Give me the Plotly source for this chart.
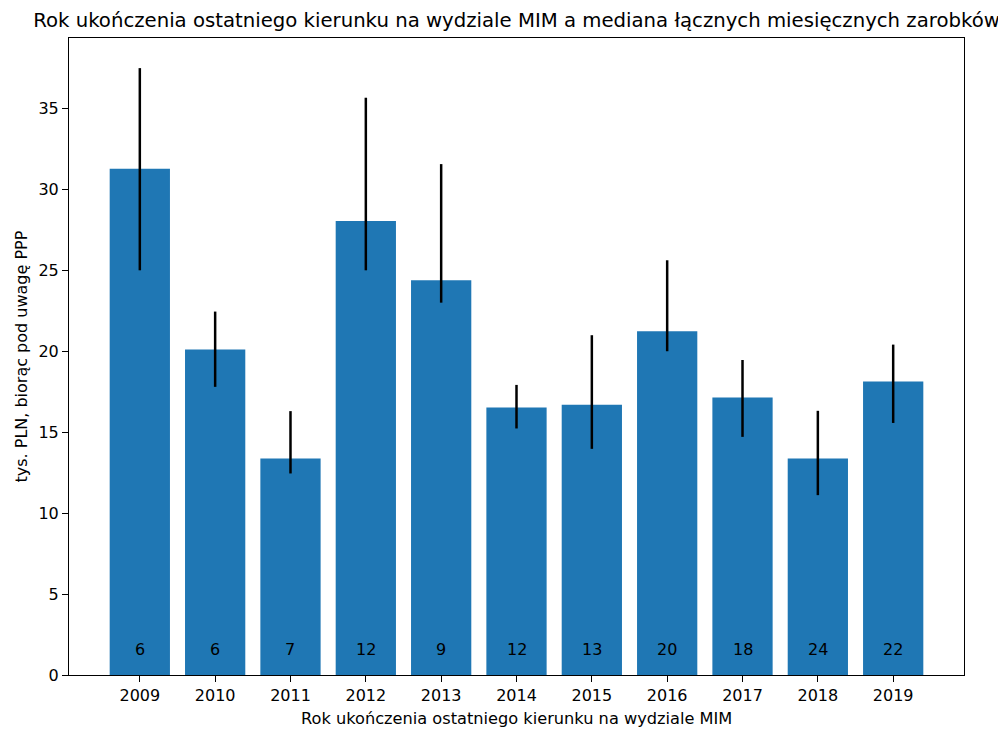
import plotly.graph_objects as go

years = ["2009", "2010", "2011", "2012", "2013", "2014", "2015", "2016", "2017", "2018", "2019"]
year_pos = [2009, 2010, 2011, 2012, 2013, 2014, 2015, 2016, 2017, 2018, 2019]
median = [31.28, 20.1, 13.38, 28.05, 24.38, 16.52, 16.69, 21.23, 17.14, 13.37, 18.13]
err_high = [37.49, 22.45, 16.3, 35.66, 31.56, 17.92, 20.99, 25.62, 19.46, 16.32, 20.41]
err_low = [25.0, 17.8, 12.45, 25.0, 23.0, 15.23, 13.97, 20.0, 14.71, 11.11, 15.57]
counts = [6, 6, 7, 12, 9, 12, 13, 20, 18, 24, 22]
y_ticks = [0, 5, 10, 15, 20, 25, 30, 35]

plus = [h - m for h, m in zip(err_high, median)]
minus = [m - l for m, l in zip(median, err_low)]

fig = go.Figure()
fig.add_trace(go.Bar(
    x=year_pos, y=median, width=0.8,
    marker=dict(color="#1f77b4", line=dict(width=0)),
    error_y=dict(type="data", symmetric=False, array=plus, arrayminus=minus,
                 color="black", thickness=2.5, width=0),
    showlegend=False,
))

for xp, c in zip(year_pos, counts):
    fig.add_annotation(x=xp, y=1.55, text=str(c), showarrow=False,
                       font=dict(size=16, color="black"), yanchor="middle")

# axis titles
fig.add_annotation(x=0.5, xref="paper", y=0, yref="paper", yshift=-43,
                   text="Rok ukończenia ostatniego kierunku na wydziale MIM",
                   showarrow=False, xanchor="center", yanchor="middle",
                   font=dict(size=16.2, color="black"))
fig.add_annotation(x=0, xref="paper", xshift=-48, y=0.5, yref="paper",
                   text="tys. PLN, biorąc pod uwagę PPP", textangle=-90,
                   showarrow=False, xanchor="center", yanchor="middle",
                   font=dict(size=16, color="black"))

fig.update_layout(
    width=998, height=723,
    margin=dict(l=61, r=42, t=30, b=56),
    paper_bgcolor="white", plot_bgcolor="white",
    font=dict(family="DejaVu Sans", size=16, color="black"),
    title=dict(text="Rok ukończenia ostatniego kierunku na wydziale MIM a mediana łącznych miesięcznych zarobków",
               x=0.5, xref="paper", xanchor="center", y=1 - 12 / 723, yref="container",
               yanchor="middle", font=dict(size=19.7, color="black")),
    xaxis=dict(range=[2008.06, 2019.94], tickmode="array", tickvals=year_pos, ticktext=years,
               showline=True, mirror=True, linecolor="black", linewidth=1,
               ticks="outside", ticklen=6, tickcolor="black", showgrid=False, zeroline=False),
    yaxis=dict(range=[0, 39.35], tickmode="array", tickvals=y_ticks,
               ticktext=[str(t) for t in y_ticks],
               showline=True, mirror=True, linecolor="black", linewidth=1,
               ticks="outside", ticklen=6, tickcolor="black", showgrid=False, zeroline=False),
)

fig.write_html("out.html")
